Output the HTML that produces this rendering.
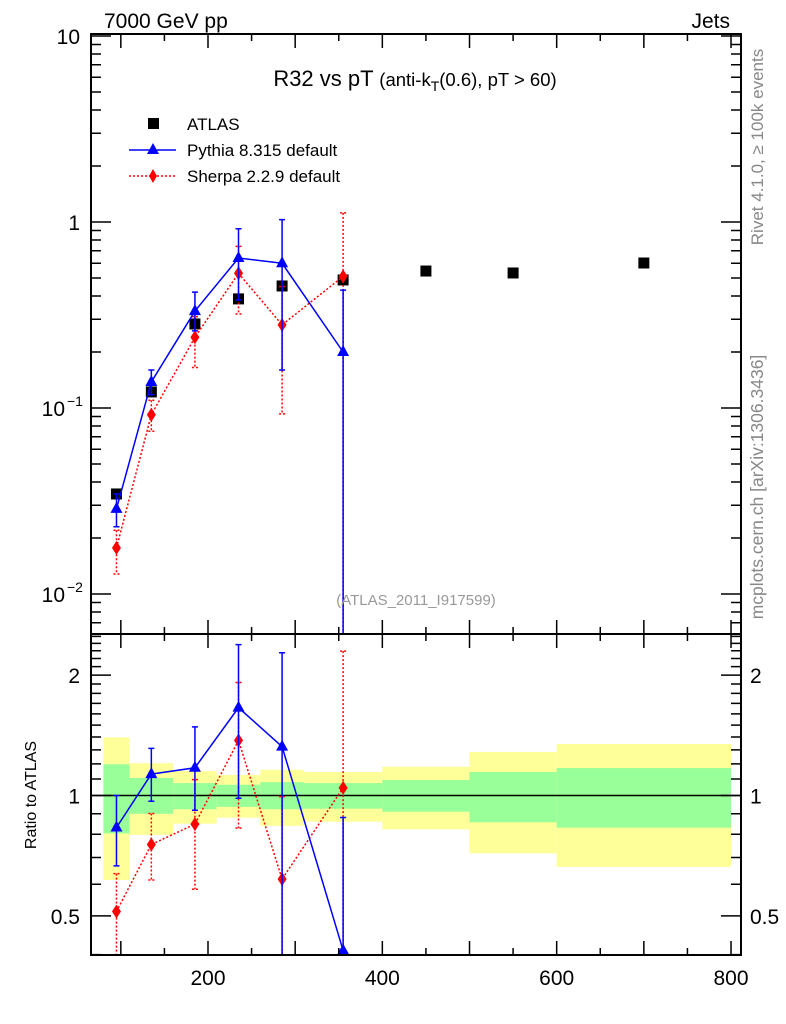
<!DOCTYPE html>
<html><head><meta charset="utf-8"><style>
html,body{margin:0;background:#fff;overflow:hidden;width:786px;height:1024px}
svg{display:block;overflow:visible}
svg text{font-family:"Liberation Sans",sans-serif}
</style></head><body>
<svg id="c" width="786" height="1024" viewBox="0 0 786 1024" xmlns="http://www.w3.org/2000/svg"></svg>
<script>
const xs=[95,135,185,235,285,355,450,550,700];
const atlas=[0.0345,0.122,0.283,0.386,0.453,0.488,0.545,0.532,0.602];
const pyX=[95,135,185,235,285,355];
const pyV=[0.0287,0.138,0.332,0.64,0.60,0.20];
const pyLo=[0.0230,0.118,0.26,0.38,0.16,0.0001];
const pyHi=[0.0345,0.160,0.42,0.92,1.03,0.43];
const shX=[95,135,185,235,285,355];
const shV=[0.0177,0.092,0.24,0.53,0.28,0.51];
const shLo=[0.0128,0.075,0.165,0.32,0.093,0.0001];
const shHi=[0.0220,0.110,0.31,0.74,0.45,1.12];
const binEdges=[80,110,160,210,260,310,400,500,600,800];
const yelHi=[1.398,1.204,1.151,1.125,1.160,1.145,1.18,1.285,1.345];
const yelLo=[0.615,0.797,0.85,0.88,0.84,0.86,0.823,0.717,0.663];
const grnHi=[1.197,1.106,1.074,1.064,1.08,1.074,1.093,1.145,1.171];
const grnLo=[0.804,0.90,0.924,0.937,0.924,0.927,0.911,0.857,0.831];
const xTicks=[200,400,600,800];

const NS="http://www.w3.org/2000/svg",svg=document.getElementById('c');
const L=91,R=741,T=34,M=634,B=955;
const X=v=>208+(v-200)*0.8717;
const Y=v=>222-186*Math.log10(v);
const YR=r=>795.5-400*Math.log10(r);
function el(t,a,p){const e=document.createElementNS(NS,t);for(const k in a)e.setAttribute(k,a[k]);(p||svg).appendChild(e);return e;}
function txt(s,x,y,a,p){const e=el('text',Object.assign({x:x,y:y},a),p);e.textContent=s;return e;}
el('defs',{}).innerHTML='<clipPath id="cm"><rect x="91" y="34" width="650" height="600"/></clipPath><clipPath id="cr"><rect x="91" y="634" width="650" height="321"/></clipPath>';
const gm=el('g',{'clip-path':'url(#cm)'});
const gr=el('g',{'clip-path':'url(#cr)'});

for(let i=0;i<binEdges.length-1;i++){
 const x0=X(binEdges[i]),w=X(binEdges[i+1])-x0;
 const y1=el('rect',{x:x0,y:YR(yelHi[i]),width:w,height:YR(yelLo[i])-YR(yelHi[i]),fill:'#ffff99'},gr);
 
 const g1=el('rect',{x:x0,y:YR(grnHi[i]),width:w,height:YR(grnLo[i])-YR(grnHi[i]),fill:'#99ff99'},gr);
 
}
el('line',{x1:L,x2:R,y1:YR(1),y2:YR(1),stroke:'#000','stroke-width':1.5},gr);

xs.forEach((x,i)=>{const r=el('rect',{x:X(x)-5.5,y:Y(atlas[i])-5.5,width:11,height:11,fill:'#000'},gm);
 });

function series(g,xa,v,lo,hi,col,dash,shape,yf,norm,name){
 const pts=xa.map((x,i)=>[X(x),yf(v[i]/norm(i))]);
 const pl=el('polyline',{points:pts.map(p=>p.join(',')).join(' '),fill:'none',stroke:col,'stroke-width':1.5,'stroke-dasharray':dash},g);
 
 xa.forEach((x,i)=>{const px=X(x),ya=yf(hi[i]/norm(i)),yb=Math.min(yf(lo[i]/norm(i)),1000);
  const eb=el('path',{d:`M${px},${ya}V${yb}M${px-3},${ya}h6M${px-3},${yb}h6`,stroke:col,'stroke-width':1.5,fill:'none','stroke-dasharray':dash},g);
  
  const py=yf(v[i]/norm(i));let m;
  if(shape==='tri')m=el('path',{d:`M${px},${py-7}L${px+6},${py+4}L${px-6},${py+4}Z`,fill:col},g);
  else m=el('path',{d:`M${px},${py-7}L${px+4.5},${py}L${px},${py+7}L${px-4.5},${py}Z`,fill:col},g);
  });
}
series(gm,shX,shV,shLo,shHi,'#ff0000','2,2','dia',Y,()=>1,'sherpa');
series(gm,pyX,pyV,pyLo,pyHi,'#0000ff','','tri',Y,()=>1,'pythia');
series(gr,shX,shV,shLo,shHi,'#ff0000','2,2','dia',YR,i=>atlas[i],'sherpa-ratio');
series(gr,pyX,pyV,pyLo,pyHi,'#0000ff','','tri',YR,i=>atlas[i],'pythia-ratio');

el('rect',{x:L,y:T,width:R-L,height:M-T,fill:'none',stroke:'#000','stroke-width':2});
el('rect',{x:L,y:M,width:R-L,height:B-M,fill:'none',stroke:'#000','stroke-width':2});
let d='';
for(let v=100;v<=800;v+=50){const x=X(v),big=v%100===0;const l=big?14:7;
 d+=`M${x},${B}v-${l}M${x},${M}v${l}M${x},${M}v-${l}M${x},${T}v${l}`;}
for(let e=-3;e<=1;e++)for(let k=1;k<10;k++){const v=k*Math.pow(10,e),y=Y(v);if(y<T||y>M)continue;const l=k===1?20:10;
 d+=`M${L},${y}h${l}M${R},${y}h-${l}`;}
for(let k=4;k<=25;k++){const r=k/10,y=YR(r);if(y<M||y>B)continue;const l=(r===0.5||r===1||r===2)?20:10;
 d+=`M${L},${y}h${l}M${R},${y}h-${l}`;}
el('path',{d:d,stroke:'#000','stroke-width':1.5,fill:'none'});
xTicks.forEach(v=>{const t=txt(String(v),X(v),985,{'font-size':21,'text-anchor':'middle'});});
[['10',10],['1',1]].forEach(a=>{txt(a[0],80,Y(a[1])+8,{'font-size':21,'text-anchor':'end'});});
[[-1,0.1],[-2,0.01]].forEach(a=>{txt('10',65,Y(a[1])+8,{'font-size':21,'text-anchor':'end'});txt(String(a[0]).replace('-','−'),67,Y(a[1])-2,{'font-size':14});});
[['2',2],['1',1],['0.5',0.5]].forEach(a=>{txt(a[0],80,YR(a[1])+8,{'font-size':21,'text-anchor':'end'});txt(a[0],750,YR(a[1])+8,{'font-size':21});});
txt('7000 GeV pp',104,28,{'font-size':21});
txt('Jets',730,28,{'font-size':21,'text-anchor':'end'});
const ti=txt('',415,86,{'font-size':22,'text-anchor':'middle'});
ti.innerHTML='R32 vs pT <tspan font-size="18.5">(anti-k</tspan><tspan font-size="14" dy="5">T</tspan><tspan font-size="18.5" dy="-5">(0.6), pT &gt; 60)</tspan>';
txt('(ATLAS_2011_I917599)',416,605,{'font-size':15,fill:'#999','text-anchor':'middle'});
const yt=txt('Ratio to ATLAS',0,0,{'font-size':16,'text-anchor':'middle',transform:'translate(36,795) rotate(-90)'});
txt('Rivet 4.1.0, ≥ 100k events',0,0,{'font-size':17,fill:'#888','text-anchor':'middle',transform:'translate(763,147) rotate(-90)'});
txt('mcplots.cern.ch [arXiv:1306.3436]',0,0,{'font-size':17.5,fill:'#888','text-anchor':'middle',transform:'translate(763,487) rotate(-90)'});
const lg=el('g',{});
el('rect',{x:148,y:118,width:11,height:11,fill:'#000'},lg);txt('ATLAS',187,130,{'font-size':17},lg);
el('line',{x1:129,x2:176,y1:150,y2:150,stroke:'#0000ff','stroke-width':1.5},lg);
el('path',{d:'M153,143L159,154L147,154Z',fill:'#0000ff'},lg);txt('Pythia 8.315 default',187,156,{'font-size':17},lg);
el('line',{x1:129,x2:176,y1:176,y2:176,stroke:'#ff0000','stroke-width':1.5,'stroke-dasharray':'2,2'},lg);
el('path',{d:'M153,169L157,176L153,183L149,176Z',fill:'#ff0000'},lg);txt('Sherpa 2.2.9 default',187,182,{'font-size':17},lg);
</script>
</body></html>
